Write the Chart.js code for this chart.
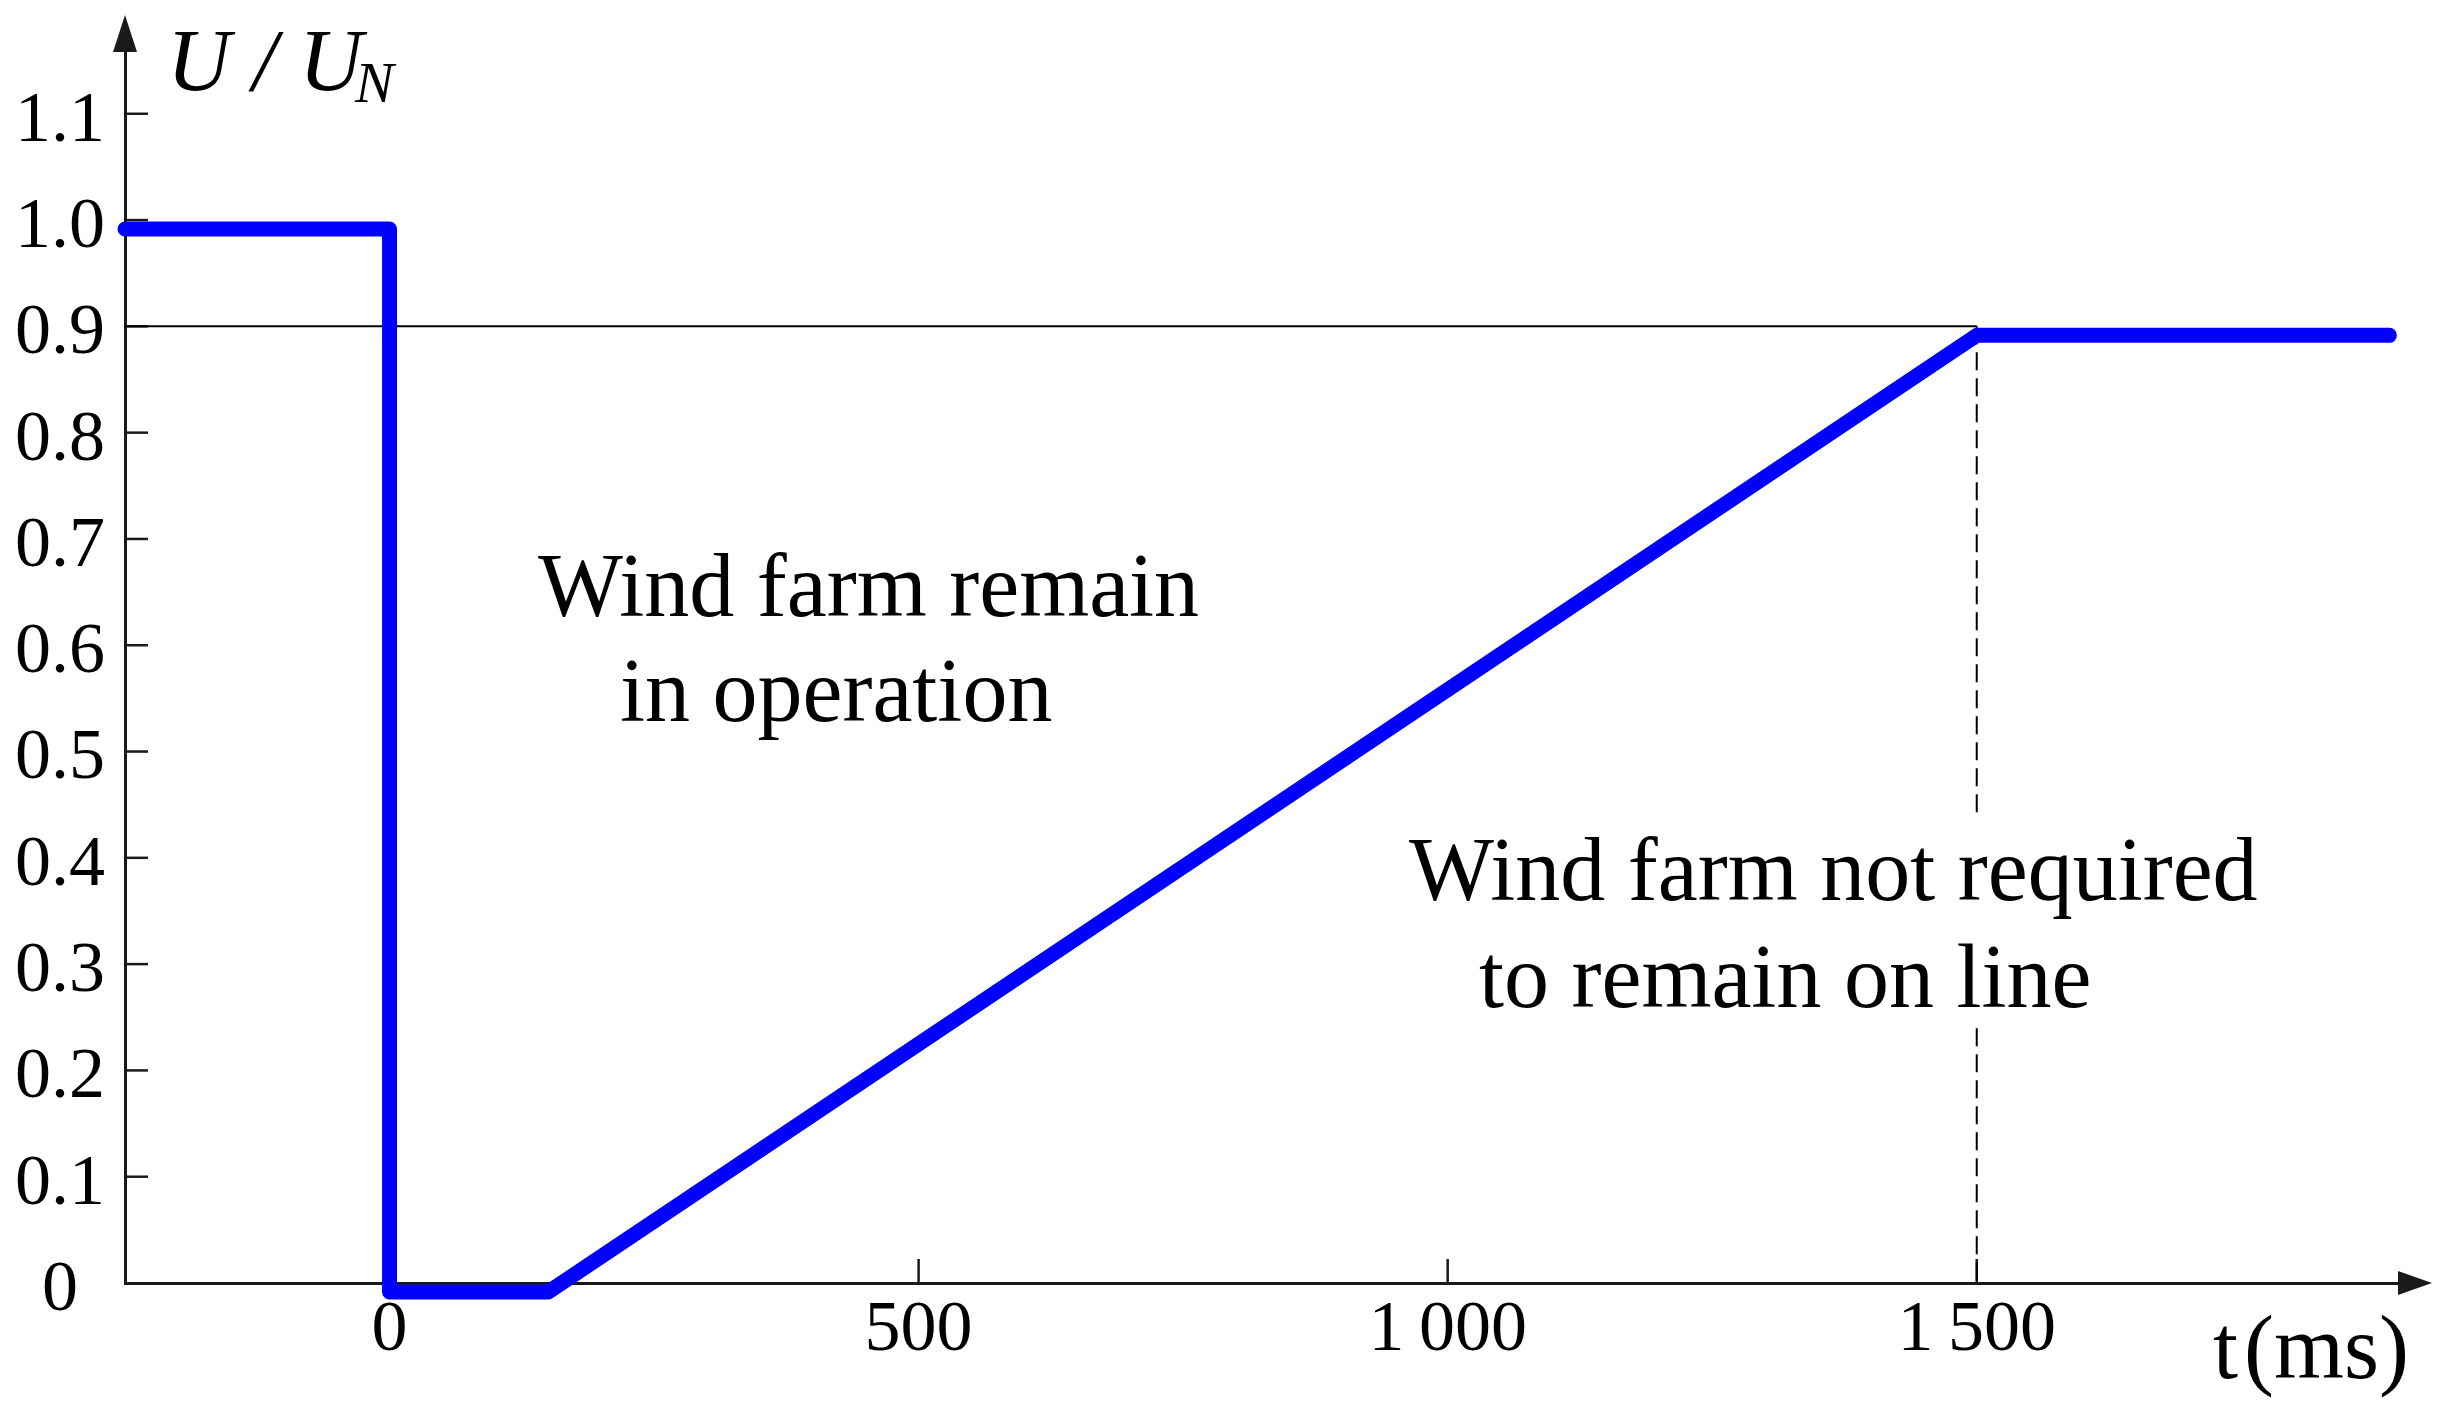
<!DOCTYPE html>
<html><head><meta charset="utf-8">
<script src="https://cdn.jsdelivr.net/npm/chart.js@4/dist/chart.umd.min.js"></script>
<style>html,body{margin:0;padding:0;background:#fff;} canvas{display:block;}</style>
</head><body>
<canvas id="c" width="2447" height="1417"></canvas>
<script>
// ---- data ----
const timeMs = [-250, 0, 0, 150, 1500, 1890];
const voltagePu = [1.0, 1.0, 0, 0, 0.9, 0.9];
const refLineTime = [-250, 1500];
const refLineVoltage = [0.9, 0.9];
const dashLineTime = [1500, 1500];
const dashLineVoltage = [0.9, 0];
const yTickValues = [0, 0.1, 0.2, 0.3, 0.4, 0.5, 0.6, 0.7, 0.8, 0.9, 1.0, 1.1];
const yTickLabels = ['0', '0.1', '0.2', '0.3', '0.4', '0.5', '0.6', '0.7', '0.8', '0.9', '1.0', '1.1'];
const xTickValues = [0, 500, 1000, 1500];
const xTickLabels = ['0', '500', '1\u2009000', '1\u2009500'];
const yAxisTitle = 'U / U';
const yAxisTitleSub = 'N';
const xAxisTitleT = 't';
const xAxisTitleUnit = '(ms)';
const noteLeft = ['Wind farm remain', 'in operation'];
const noteRight = ['Wind farm not required', 'to remain on line'];

const FONT = "'Liberation Serif', 'Times New Roman', serif";
const INK = '#1a1a1a';

function pts(xs, ys) { return xs.map((v, i) => ({x: v, y: ys[i]})); }
function lookup(vals, labels, v) {
  const i = vals.findIndex(t => Math.abs(t - v) < 1e-9);
  return i >= 0 ? labels[i] : '';
}

const overlay = {
  id: 'overlay',
  beforeDatasetsDraw(chart) {
    const {ctx, chartArea: a, scales: {x, y}} = chart;
    ctx.save();
    ctx.strokeStyle = INK; ctx.lineWidth = 2.5;
    yTickValues.forEach(v => {
      if (v === 0) return;
      const py = y.getPixelForValue(v);
      ctx.beginPath(); ctx.moveTo(a.left, py); ctx.lineTo(a.left + 23, py); ctx.stroke();
    });
    xTickValues.forEach(v => {
      const px = x.getPixelForValue(v);
      ctx.beginPath(); ctx.moveTo(px, a.bottom); ctx.lineTo(px, a.bottom - 24); ctx.stroke();
    });
    ctx.restore();
  },
  beforeDatasetDraw(chart, args) {
    if (args.index === 0) { chart.ctx.save(); chart.ctx.translate(0, 9); }
  },
  afterDatasetDraw(chart, args) {
    if (args.index === 0) { chart.ctx.restore(); }
  },
  afterDraw(chart) {
    const {ctx, chartArea: a} = chart;
    ctx.save();
    // arrowheads
    ctx.fillStyle = INK;
    ctx.beginPath();
    ctx.moveTo(a.left, a.top - 35); ctx.lineTo(a.left - 12, a.top + 2); ctx.lineTo(a.left + 12, a.top + 2);
    ctx.closePath(); ctx.fill();
    ctx.beginPath();
    ctx.moveTo(a.right + 32, a.bottom); ctx.lineTo(a.right - 2, a.bottom - 12); ctx.lineTo(a.right - 2, a.bottom + 12);
    ctx.closePath(); ctx.fill();

    // white box behind right note
    ctx.fillStyle = '#fff';
    ctx.fillRect(1400, 819, 860, 203);

    ctx.fillStyle = '#000';
    ctx.textAlign = 'left';
    ctx.textBaseline = 'alphabetic';
    ctx.font = `90px ${FONT}`;
    ctx.fillText(noteLeft[0], 538, 616);
    ctx.fillText(noteLeft[1], 620, 721);
    ctx.fillText(noteRight[0], 1409, 900);
    ctx.fillText(noteRight[1], 1479, 1007);

    // axis titles
    ctx.font = `italic 88px ${FONT}`;
    ctx.fillText(yAxisTitle, 167, 90);
    ctx.font = `italic 58px ${FONT}`;
    ctx.fillText(yAxisTitleSub, 355, 102);

    ctx.font = `90px ${FONT}`;
    ctx.fillText(xAxisTitleT, 2213, 1378);
    ctx.fillText(xAxisTitleUnit, 2244, 1378);
    ctx.restore();
  }
};

new Chart(document.getElementById('c'), {
  type: 'line',
  data: {
    datasets: [
      {
        data: pts(timeMs, voltagePu),
        borderColor: '#0000ff', borderWidth: 15,
        borderCapStyle: 'round', borderJoinStyle: 'round',
        pointRadius: 0, tension: 0, clip: false, fill: false
      },
      {
        data: pts(refLineTime, refLineVoltage),
        borderColor: '#000', borderWidth: 2, pointRadius: 0, fill: false
      },
      {
        data: pts(dashLineTime, dashLineVoltage),
        borderColor: '#000', borderWidth: 2, borderDash: [18, 8], pointRadius: 0, fill: false
      }
    ]
  },
  options: {
    responsive: false,
    animation: false,
    events: [],
    layout: { padding: { top: 50, right: 47, bottom: 0, left: 0 } },
    plugins: { legend: { display: false }, tooltip: { enabled: false }, title: { display: false } },
    scales: {
      x: {
        type: 'linear', min: -250, max: 1900,
        afterBuildTicks: s => { s.ticks = xTickValues.map(v => ({value: v})); },
        afterFit: s => { s.height = 134; s.paddingLeft = 0; s.paddingRight = 0; },
        grid: { display: false, drawTicks: false },
        border: { display: true, color: INK, width: 3 },
        ticks: {
          autoSkip: false, maxRotation: 0, minRotation: 0, padding: 5,
          color: '#000', font: { family: FONT, size: 72 },
          callback: v => lookup(xTickValues, xTickLabels, v)
        }
      },
      y: {
        type: 'linear', min: 0, max: 1.16,
        afterBuildTicks: s => { s.ticks = yTickValues.map(v => ({value: v})); },
        afterFit: s => { s.width = 125; s.paddingTop = 0; s.paddingBottom = 0; },
        grid: { display: false, drawTicks: false },
        border: { display: true, color: INK, width: 3 },
        ticks: {
          autoSkip: false, padding: 20, crossAlign: 'center', labelOffset: 8,
          color: '#000', font: { family: FONT, size: 72 },
          callback: v => lookup(yTickValues, yTickLabels, v)
        }
      }
    }
  },
  plugins: [overlay]
});
</script>
</body></html>
